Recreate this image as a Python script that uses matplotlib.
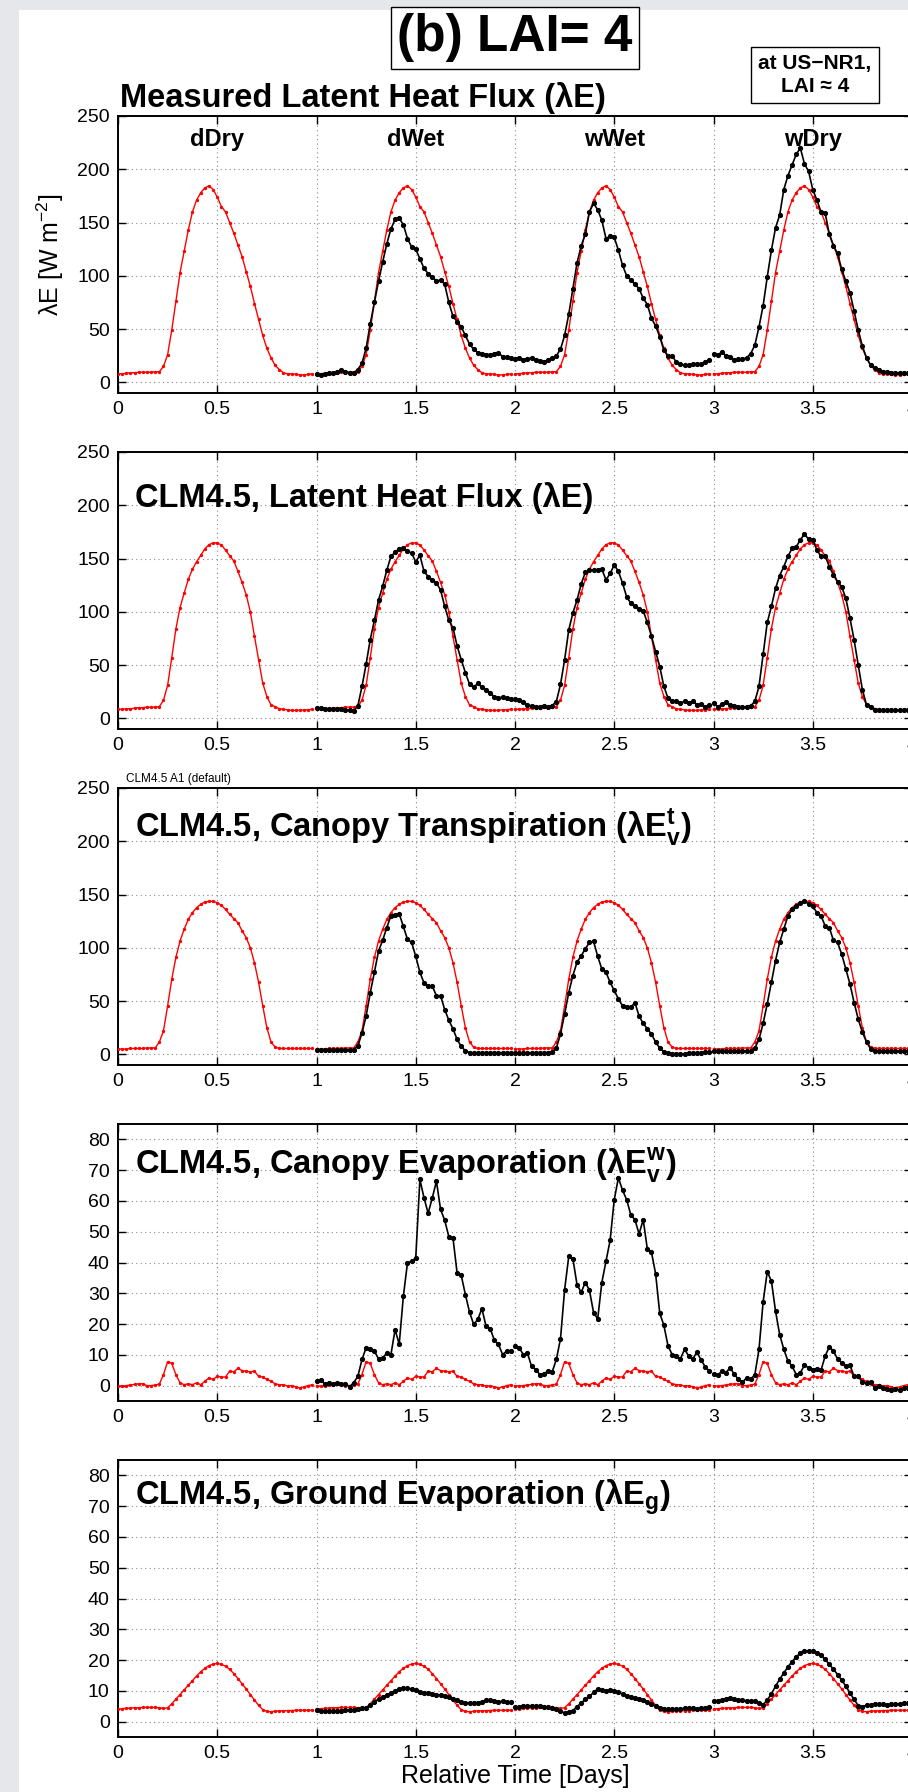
import numpy as np
import matplotlib
matplotlib.use("Agg")
import matplotlib.pyplot as plt
from matplotlib.patches import Rectangle
from matplotlib.ticker import FormatStrFormatter

plt.rcParams['font.family'] = ['Liberation Sans', 'DejaVu Sans']
plt.rcParams['mathtext.fontset'] = 'custom'
plt.rcParams['mathtext.rm'] = 'Liberation Sans'
plt.rcParams['mathtext.bf'] = 'Liberation Sans:bold'
plt.rcParams['mathtext.it'] = 'Liberation Sans:italic'

# half-hourly steps within one day
steps_per_day = 48
x_day = np.arange(steps_per_day) / steps_per_day

# --- red reference days (same diurnal course repeated each day) ---
red_le_obs_day = [8, 8, 8.5, 9, 9, 9.5, 9.5, 9.5, 9.5, 10, 10, 15, 26, 49, 76, 103, 123, 143,
                  160, 171, 178, 182.5, 184.5, 181, 174, 165, 160, 150, 140, 129, 118, 104,
                  90, 74, 59, 44, 32, 23, 16, 12, 9, 8, 8, 7.5, 7, 7, 7.5, 8]
red_le_clm_day = [8.5, 8.5, 9, 9, 9.5, 10, 10, 10.5, 10.5, 10.5, 11, 17, 31, 57, 84, 104, 117.5,
                  130.5, 140, 147, 153, 159, 163, 164.7, 164.7, 162.7, 158, 152.7, 147.7, 138,
                  127.6, 116, 100, 77, 55, 33, 20.5, 12.7, 11, 9, 8.5, 8, 7.5, 7.5, 7.5, 8, 8, 8.5]
red_tr_day = [5, 5, 5, 5.5, 5.5, 5.5, 5.5, 6, 6, 6, 11.6, 22, 45.5, 70.5, 91, 106.4, 117.4,
              126.7, 133, 137.7, 140.8, 143, 143.6, 143.6, 142.4, 139.9, 136, 131.5, 127.4,
              123.6, 116, 109.6, 100, 86, 67.6, 45.5, 25, 11.6, 6.8, 5.5, 5.5, 5.5, 5.5, 5.5,
              5.5, 5.5, 5.5, 5.5]
red_ev_day = [0, -0.2, 0, 0.2, 0.4, 0.6, 0.6, 0, 0, 0.2, 0.5, 3.6, 7.8, 7.2, 3.6, 0.9, 0.3, 0.6,
              0.3, 0.9, 0.3, 1.4, 2.5, 2, 3, 2.8, 2.8, 4.7, 4.5, 5.6, 4.9, 4.7, 4.5, 4.7, 3, 2.8,
              2, 1.4, 0.6, 0.3, 0.3, -0.2, 0, -0.4, -0.8, -0.4, 0, 0.3]
red_eg_day = [4, 4.2, 4.3, 4.4, 4.5, 4.5, 4.6, 4.6, 4.6, 4.6, 4.5, 4.3, 4.5, 5.8, 7.3, 8.8, 10.3,
              11.8, 13.3, 14.8, 16.2, 17.3, 18.2, 18.7, 18.9, 18.6, 18, 17, 15.6, 14, 12.3, 10.6,
              8.8, 7.0, 5.3, 3.9, 3.3, 3.2, 3.4, 3.5, 3.5, 3.6, 3.6, 3.7, 3.7, 3.7, 3.7, 3.7]

# --- black series: days starting at 1, 2, 3 ---
blk_le_obs = [
    [8, 7, 8, 9, 9, 10, 12, 10, 9, 9, 12, 18, 32, 55, 75, 95, 113, 130, 144, 153, 154, 148, 135,
     127, 125, 116, 107, 102, 99, 95, 96, 92, 75, 62, 57, 52, 44, 36, 31, 28, 27, 26, 26, 27, 28,
     24, 24, 23],
    [22, 23, 21, 22, 23, 21, 20, 19.5, 21, 23, 25, 31, 44, 64, 88, 112, 128, 139, 160, 168, 162,
     152, 135, 137, 136, 124, 110, 100, 96, 92, 88, 79, 73, 60, 53, 43, 30, 25, 25, 19, 17, 16,
     16, 17, 17, 17, 19, 21],
    [27, 25.5, 28.5, 25, 24, 21, 22, 22, 23, 27, 35, 52, 72, 99, 124, 145, 157, 181, 194, 204,
     214, 220, 205, 198, 181, 171, 160, 159, 139, 128, 121, 106, 95, 84, 67, 49, 34, 23, 16, 13,
     12, 10, 10, 9, 9, 9, 9, 9],
]
blk_le_clm = [
    [9.5, 9.5, 9, 9, 9, 8.5, 8.5, 8, 7.5, 7, 11.6, 30, 51, 74, 92, 111, 124, 139, 152, 156, 159,
     160, 157, 155, 147, 153, 138, 133, 130, 127, 120.5, 105, 92, 85, 68, 55, 43, 32, 29, 33, 29,
     27, 24, 20, 19, 20, 19, 18],
    [18, 17, 15, 12.6, 11.7, 11, 11, 11.7, 11, 12, 15.8, 31.8, 55, 83, 99, 111, 126, 137, 139.7,
     139, 139.7, 140, 130, 136, 144, 138, 127, 114, 108, 105, 103, 101, 90, 77, 62.7, 48.6, 30,
     19, 16, 16, 14.3, 16, 14.3, 16, 12.6, 13, 11, 12.6],
    [14.3, 11, 13, 15, 12.6, 11.7, 11, 10.4, 11, 11.7, 16, 30, 60, 90, 105, 122, 134, 142.5, 152,
     159.6, 161, 167.5, 173, 168, 167.5, 158, 152, 152.5, 142.5, 134.6, 128, 123.6, 112.7, 94,
     73.6, 50, 27, 12.6, 11, 8, 7.4, 8, 7.4, 8, 7.4, 7.4, 7.4, 7.4],
]
blk_tr = [
    [4.1, 4, 4, 4, 4, 4, 4, 4, 4, 4.5, 8, 20, 36, 58, 77, 97, 107, 119, 130, 131, 132, 120, 108,
     105, 92, 77, 67, 64, 64, 55, 55, 42, 32, 24, 14, 7.4, 3.3, 1.7, 1, 1.5, 1.5, 1.5, 1.5, 1.5,
     1.5, 1.5, 1.5, 1.5],
    [1.5, 1.5, 1.5, 1.5, 1.5, 1.5, 1.5, 1.5, 1.5, 2, 6, 19, 38, 58, 74, 86.5, 92.4, 99, 105, 106,
     92, 80, 77, 67.6, 60, 52, 45.5, 44, 44, 48.6, 36, 29, 24, 19, 11.6, 5.8, 2.6, 1, 0.5, 0.5,
     0.5, 0.5, 1, 1, 1.5, 1.5, 2, 2],
    [3, 3, 3, 3, 3, 3, 3, 3, 3, 3.5, 6, 14, 29, 47.5, 67.6, 88, 105, 117.5, 130, 136, 139, 141.7,
     144, 141, 139, 133, 130, 120.5, 119, 107, 105, 94, 80, 66, 48.6, 33, 20.8, 11.6, 5, 3.4, 3,
     3, 3, 3, 3, 3, 3, 3],
]
blk_ev = [
    [1.4, 1.7, 0.6, 1, 0.6, 0.9, 0.6, 0.6, -0.4, 1, 3, 8.5, 12.3, 11.8, 11.2, 8.7, 9, 10.6, 10.1,
     18.2, 13.4, 29, 39.9, 40.4, 41.5, 67, 61, 56, 61, 66.4, 57.3, 53.7, 48.4, 48, 36.6, 35.8,
     29.6, 23.9, 19.9, 21.5, 25, 19.3, 18.5, 14.8, 13.4, 10.1, 11.2, 11.2],
    [13, 12.3, 10.1, 10.6, 6.3, 5.2, 3.6, 3.9, 4.7, 4.5, 8.5, 15.2, 31.2, 42, 41.2, 32.8, 30.3,
     33.5, 31, 23.7, 21.7, 33.5, 40.4, 47.2, 60.4, 67.5, 63.5, 60.4, 55.5, 53.9, 49.3, 53.9, 44.4,
     43.3, 36.4, 23.5, 19.6, 12.9, 10.1, 9.6, 8.7, 11.8, 9.6, 8.7, 10.9, 8.3, 6.1, 4.7],
    [3.9, 3.3, 4.7, 4.2, 5.8, 3.8, 2, 1.1, 2.5, 2, 3.6, 11.8, 27.2, 37, 34, 24.2, 16.6, 11.8, 8,
     6.3, 3.6, 4.2, 6.6, 5.8, 5.2, 5.5, 5, 9.6, 12.6, 11.2, 8.7, 7.4, 6.3, 6.6, 3, 3, 1.1, 0.9,
     1.1, -0.8, -0.2, -0.8, -1.1, -1.4, -1.1, -1.4, -0.8, -0.8],
]
blk_eg = [
    [3.8, 3.5, 3.5, 3.4, 3.5, 3.5, 3.6, 3.7, 3.7, 3.9, 4.0, 4.3, 4.5, 5.3, 6.4, 7.3, 8.0, 8.7, 9.3,
     9.9, 10.5, 10.8, 10.9, 10.6, 10.2, 9.7, 9.4, 9.3, 9.0, 8.8, 8.6, 8.3, 7.9, 7.5, 6.9, 6.4, 6.1,
     6.0, 6.1, 6.2, 6.5, 6.9, 7.0, 6.7, 6.5, 6.6, 6.4, 6.4],
    [4.7, 4.8, 5.0, 5.1, 5.2, 5.1, 5.0, 4.9, 4.6, 4.3, 4.1, 3.5, 2.7, 3.2, 3.6, 4.8, 6.1, 7.2, 8.2,
     9.5, 10.6, 10.2, 9.8, 10.3, 10.0, 9.5, 9.0, 8.4, 8.0, 7.6, 7.2, 6.9, 6.3, 5.6, 5.0, 4.5, 4.2,
     4.0, 4.0, 4.1, 4.2, 4.3, 4.4, 4.3, 4.2, 4.4, 4.5, 4.7],
    [6.6, 6.8, 7.1, 7.4, 7.6, 7.2, 6.9, 6.9, 6.8, 6.7, 6.6, 6.0, 5.5, 7.0, 9.0, 11.5, 13.8, 15.8,
     17.8, 19.5, 21.0, 22.3, 22.9, 23.0, 22.9, 22.4, 21.5, 20.2, 18.6, 17.0, 15.3, 13.5, 11.5, 9.3,
     7.2, 5.2, 4.9, 5.3, 5.5, 5.7, 5.8, 5.6, 5.5, 5.6, 5.8, 5.8, 5.9, 5.9],
]

titles = ['Measured Latent Heat Flux (λE)',
          'CLM4.5, Latent Heat Flux (λE)',
          r'CLM4.5, Canopy Transpiration (λE$_\mathbf{v}^\mathbf{t}$)',
          r'CLM4.5, Canopy Evaporation (λE$_\mathbf{v}^\mathbf{w}$)',
          r'CLM4.5, Ground Evaporation (λE$_\mathbf{g}$)']
title_y = [None, 0.80, 0.82, 0.822, 0.838]
red_days = [red_le_obs_day, red_le_clm_day, red_tr_day, red_ev_day, red_eg_day]
blk_days = [blk_le_obs, blk_le_clm, blk_tr, blk_ev, blk_eg]
ylims = [(-10, 250)] * 3 + [(-5, 85)] * 2
yticks = [np.arange(0, 251, 50)] * 3 + [np.arange(0, 81, 10)] * 2
regime_labels = ['dDry', 'dWet', 'wWet', 'wDry']
xticks = np.arange(0, 4.01, 0.5)

W, H = 908, 1792
fig = plt.figure(figsize=(W / 100, H / 100), dpi=100, facecolor='#e6e7ea')
fig.patches.append(Rectangle((19 / W, 0), 1, 1 - 10 / H, transform=fig.transFigure,
                             facecolor='white', edgecolor='none', zorder=-10))

tops = [116, 452, 788, 1124, 1460]
ph = 277
left, right = 118, 912
axes = []
for k in range(5):
    ax = fig.add_axes([left / W, 1 - (tops[k] + ph) / H, (right - left) / W, ph / H])
    axes.append(ax)
    # red reference, one segment per day
    for d in range(4):
        ax.plot(x_day + d, red_days[k], color='red', lw=1.0, marker='.', ms=2.8, zorder=3)
    for d in range(3):
        ax.plot(x_day + d + 1, blk_days[k][d], color='black', lw=1.2, marker='.', ms=5.5, zorder=4)
    ax.set_xlim(0, 4)
    ax.set_ylim(*ylims[k])
    ax.set_xticks(xticks)
    ax.set_yticks(yticks[k])
    ax.xaxis.set_major_formatter(FormatStrFormatter('%g'))
    ax.tick_params(direction='in', top=True, right=True, length=6, width=1, labelsize=14, pad=6)
    ax.grid(True, color='#8a8a8a', linestyle=(0, (1, 3)), lw=0.8)
    for s in ax.spines.values():
        s.set_linewidth(1.4)
    if k == 0:
        ax.text(0.003, 1 + 9 / ph, titles[k], transform=ax.transAxes, fontsize=23.5,
                fontweight='bold', va='baseline', ha='left')
    else:
        ax.text(0.021, title_y[k], titles[k], transform=ax.transAxes, fontsize=23.5,
                fontweight='bold', va='baseline', ha='left')

ax0 = axes[0]
for d, lab in enumerate(regime_labels):
    ax0.text(d + 0.5, 228, lab, ha='center', va='center', fontsize=17, fontweight='bold')
ax0.set_ylabel('λE [W m$^{-2}$]', fontsize=18, labelpad=8)

axes[2].text(0.01, 1.01, 'CLM4.5 A1 (default)', transform=axes[2].transAxes, fontsize=8.5,
             va='bottom', ha='left')
axes[4].set_xlabel('Relative Time [Days]', fontsize=18, labelpad=1)

fig.text(515 / W, 1 - 38 / H, '(b) LAI= 4', fontsize=37, fontweight='bold', ha='center',
         va='center', bbox=dict(boxstyle='square,pad=0.12', facecolor='white', edgecolor='black', lw=1))
fig.text(815 / W, 1 - 75 / H, 'at US−NR1,\nLAI ≈ 4', fontsize=15, fontweight='bold',
         ha='center', va='center', linespacing=1.2,
         bbox=dict(boxstyle='square,pad=0.35', facecolor='white', edgecolor='black', lw=1))

fig.savefig('out.png', dpi=100, facecolor=fig.get_facecolor())
